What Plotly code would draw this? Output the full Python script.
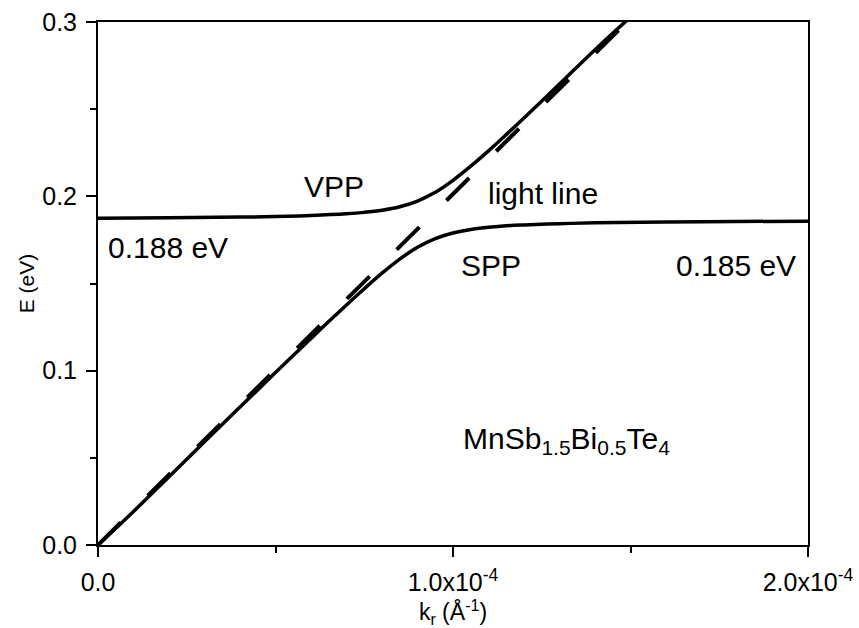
import plotly.graph_objects as go

# Wavevector k_r (Å^-1) and energy E (eV)
k_vpp = [0.0, 0.2e-4, 0.4e-4, 0.5e-4, 0.6e-4, 0.7e-4, 0.75e-4, 0.8e-4, 0.85e-4, 0.9e-4,
         0.95e-4, 1.0e-4, 1.05e-4, 1.1e-4, 1.15e-4, 1.2e-4, 1.3e-4, 1.4e-4, 1.49e-4]
e_vpp = [0.1874, 0.1877, 0.1881, 0.1884, 0.1890, 0.1900, 0.1908, 0.1920, 0.1940, 0.1973,
         0.2023, 0.2092, 0.2173, 0.2261, 0.2354, 0.2449, 0.2644, 0.2841, 0.3010]

k_spp = [0.0, 0.1e-4, 0.2e-4, 0.3e-4, 0.4e-4, 0.5e-4, 0.6e-4, 0.65e-4, 0.7e-4, 0.75e-4,
         0.8e-4, 0.85e-4, 0.9e-4, 0.95e-4, 1.0e-4, 1.05e-4, 1.1e-4, 1.15e-4, 1.2e-4,
         1.3e-4, 1.4e-4, 1.6e-4, 1.8e-4, 2.0e-4]
e_spp = [0.0, 0.0192, 0.0392, 0.0592, 0.0791, 0.0989, 0.1185, 0.1282, 0.1377, 0.1470,
         0.1559, 0.1640, 0.1708, 0.1758, 0.1790, 0.1810, 0.1822, 0.1831, 0.1836,
         0.1843, 0.1848, 0.1853, 0.1856, 0.1857]

k_light = [0.0, 1.49e-4]
e_light = [0.0, 0.300]

x_tickvals = [0.0, 1.0e-4, 2.0e-4]
x_ticktext = ["0.0", "1.0x10<sup>-4</sup>", "2.0x10<sup>-4</sup>"]
y_tickvals = [0.0, 0.1, 0.2, 0.3]
y_ticktext = ["0.0", "0.1", "0.2", "0.3"]

FONT = "Arial, Liberation Sans, sans-serif"

fig = go.Figure()
fig.add_trace(go.Scatter(x=k_light, y=e_light, mode="lines",
                         line=dict(color="black", width=4, dash="32px,38px"),
                         showlegend=False, hoverinfo="skip"))
fig.add_trace(go.Scatter(x=k_vpp, y=e_vpp, mode="lines", line_shape="spline",
                         line=dict(color="black", width=3.5), showlegend=False))
fig.add_trace(go.Scatter(x=k_spp, y=e_spp, mode="lines", line_shape="spline",
                         line=dict(color="black", width=3.5), showlegend=False))

ann = dict(showarrow=False, font=dict(family=FONT, size=30, color="black"),
           xref="paper", yref="paper")
# plot area: x 98..808 px, y 22..545 px
W, H, L, T = 710.0, 523.0, 98.0, 22.0
def px(x, y):
    return (x - L) / W, 1 - (y - T) / H

for text, (x, y), xa in [
    ("VPP", (334, 186), "center"),
    ("0.188 eV", (106, 248), "left"),
    ("light line", (486, 194), "left"),
    ("SPP", (459, 265), "left"),
    ("0.185 eV", (798, 265), "right"),
    ("MnSb<sub>1.5</sub>Bi<sub>0.5</sub>Te<sub>4</sub>", (461, 440), "left"),
]:
    xx, yy = px(x, y)
    fig.add_annotation(text=text, x=xx, y=yy, xanchor=xa, yanchor="middle", **ann)

axis_common = dict(showgrid=False, zeroline=False, showline=True, linecolor="black",
                   linewidth=2, mirror=True, ticks="outside", ticklen=10, tickwidth=2,
                   tickcolor="black", automargin=False,
                   tickfont=dict(family=FONT, size=25, color="black"))

fig.update_xaxes(range=[0, 2.0e-4], tickmode="array", tickvals=x_tickvals, ticktext=x_ticktext,
                 ticklabelstandoff=4,
                 minor=dict(ticks="outside", ticklen=6, tickwidth=2, tickcolor="black", dtick=0.5e-4, tick0=0),
                 title=dict(text="k<sub>r</sub> (Å<sup>-1</sup>)", font=dict(family=FONT, size=23, color="black"),
                            standoff=2),
                 **axis_common)
fig.update_yaxes(range=[0, 0.3], tickmode="array", tickvals=y_tickvals, ticktext=y_ticktext,
                 ticklabelstandoff=4,
                 minor=dict(ticks="outside", ticklen=6, tickwidth=2, tickcolor="black", dtick=0.05, tick0=0),
                 title=dict(text="E (eV)", font=dict(family=FONT, size=21, color="black"), standoff=2),
                 **axis_common)

fig.update_layout(width=859, height=628, margin=dict(l=98, r=51, t=22, b=83),
                  plot_bgcolor="white", paper_bgcolor="white")

fig.write_html("out.html")
